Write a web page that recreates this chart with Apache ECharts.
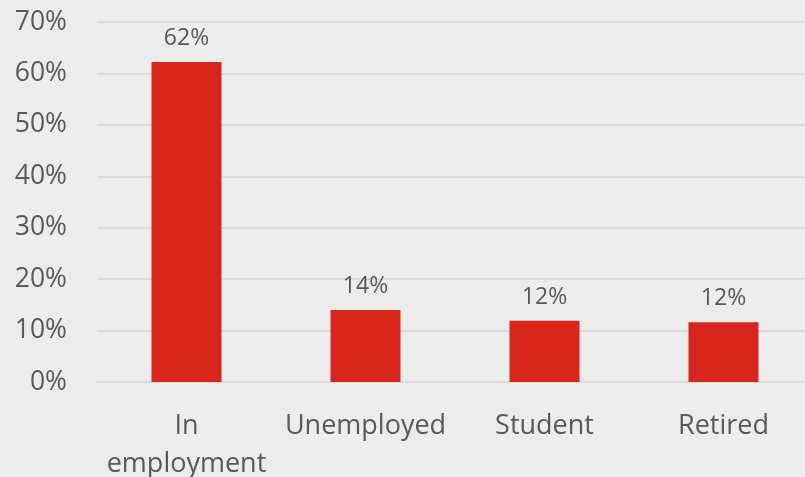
<!DOCTYPE html>
<html>
<head>
<meta charset="utf-8">
<script src="https://cdn.jsdelivr.net/npm/echarts@6/dist/echarts.min.js"></script>
<style>
  html, body { margin: 0; padding: 0; background: #ececec; }
  #barChart { width: 805px; height: 477px; }
</style>
</head>
<body>
<div id="barChart"></div>
<script>
// values (percent)
let categories = ['In\nemployment', 'Unemployed', 'Student', 'Retired'];
let shares = [62.2, 14.0, 11.9, 11.6];
let yTicks = [0, 10, 20, 30, 40, 50, 60, 70];

let barChart = {
  __dom: null,
  __chart: null,
  __option: {},
  initChart: function () {
    this.__dom = document.getElementById('barChart');
    this.__chart = echarts.init(this.__dom);
    this.__option = {
      backgroundColor: '#ececec',
      textStyle: {
        fontFamily: 'Open Sans'
      },
      grid: {
        left: 97,
        top: 22,
        width: 716,
        bottom: 95,
        containLabel: false,
        outerBoundsMode: 'none'
      },
      xAxis: {
        type: 'category',
        data: categories,
        axisTick: { show: false },
        axisLine: { show: true, lineStyle: { color: '#d9d9d9', width: 2 } },
        axisLabel: {
          color: '#595959',
          fontSize: 27,
          lineHeight: 38,
          margin: 25,
          interval: 0
        }
      },
      yAxis: {
        type: 'value',
        min: yTicks[0],
        max: yTicks[yTicks.length - 1],
        interval: 10,
        axisLine: { show: false },
        axisTick: { show: false },
        axisLabel: {
          color: '#595959',
          fontSize: 26.5,
          margin: 30,
          formatter: '{value}%'
        },
        splitLine: {
          lineStyle: { color: '#d9d9d9', width: 2 }
        }
      },
      series: [
        {
          type: 'bar',
          data: shares,
          barWidth: 70,
          itemStyle: { color: '#d9261c' },
          label: {
            show: true,
            position: 'top',
            distance: 12,
            color: '#595959',
            fontSize: 23,
            formatter: function (p) { return Math.round(p.value) + '%'; }
          }
        }
      ]
    };
    this.__chart.setOption(this.__option);
  }
};

barChart.initChart();
</script>
</body>
</html>
